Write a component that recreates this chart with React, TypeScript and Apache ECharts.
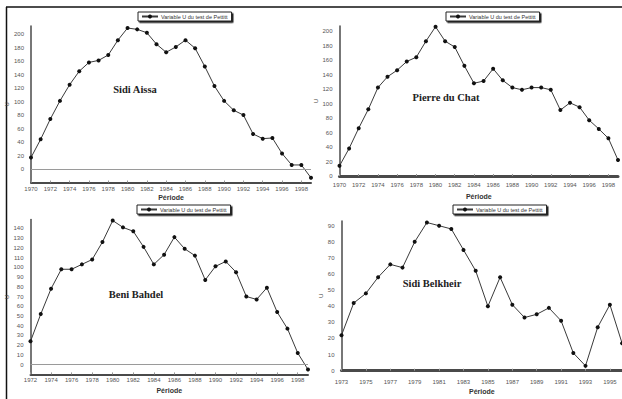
import { useEffect, useRef } from "react";
import * as echarts from "echarts";

// Pettitt test statistic U per station
const SERIES_NAME = "Variable U du test de Pettitt";

const yearsSidiAissa = [
  "1970", "1971", "1972", "1973", "1974", "1975", "1976", "1977", "1978", "1979",
  "1980", "1981", "1982", "1983", "1984", "1985", "1986", "1987", "1988", "1989",
  "1990", "1991", "1992", "1993", "1994", "1995", "1996", "1997", "1998", "1999",
];
const uSidiAissa = [
  17, 44, 74, 101, 125, 145, 158, 161, 169, 191,
  209, 207, 202, 185, 173, 181, 191, 179, 152, 123,
  101, 87, 80, 52, 45, 46, 23, 6, 6, -13,
];

const yearsPierreDuChat = [
  "1970", "1971", "1972", "1973", "1974", "1975", "1976", "1977", "1978", "1979",
  "1980", "1981", "1982", "1983", "1984", "1985", "1986", "1987", "1988", "1989",
  "1990", "1991", "1992", "1993", "1994", "1995", "1996", "1997", "1998", "1999",
];
const uPierreDuChat = [
  14, 38, 66, 92, 122, 137, 146, 158, 164, 186,
  206, 186, 178, 152, 128, 131, 148, 132, 122, 119,
  122, 122, 119, 91, 101, 95, 77, 65, 52, 22,
];

const yearsBeniBahdel = [
  "1972", "1973", "1974", "1975", "1976", "1977", "1978", "1979", "1980", "1981",
  "1982", "1983", "1984", "1985", "1986", "1987", "1988", "1989", "1990", "1991",
  "1992", "1993", "1994", "1995", "1996", "1997", "1998", "1999",
];
const uBeniBahdel = [
  24, 52, 78, 98, 98, 103, 108, 126, 148, 141,
  137, 121, 103, 113, 131, 119, 112, 87, 101, 106,
  95, 70, 67, 79, 54, 37, 12, -5,
];

const yearsSidiBelkheir = [
  "1973", "1974", "1975", "1976", "1977", "1978", "1979", "1980", "1981", "1982",
  "1983", "1984", "1985", "1986", "1987", "1988", "1989", "1990", "1991", "1992",
  "1993", "1994", "1995", "1996",
];
const uSidiBelkheir = [
  22, 42, 48, 58, 66, 64, 80, 92, 90, 88,
  75, 62, 40, 58, 41, 33, 35, 39, 31, 11,
  3, 27, 41, 17,
];

const stationNames = ["Sidi Aissa", "Pierre du Chat", "Beni Bahdel", "Sidi Belkheir"];

type Panel = {
  years: string[];
  values: number[];
  grid: { left: number; top: number; width: number; height: number };
  yMin: number;
  yMax: number;
  yStep: number;
  zeroLine: boolean;
  xAxisWidth: number;
  xNameGap: number;
  xLabelMargin: number;
  yNameGap: number;
  legend: { left: number; top: number };
  title: { x: number; y: number };
};

const panels: Panel[] = [
  {
    years: yearsSidiAissa,
    values: uSidiAissa,
    grid: { left: 31, top: 26, width: 280, height: 156.5 },
    yMin: -20, yMax: 212, yStep: 20, zeroLine: true,
    xAxisWidth: 2, xNameGap: 11, xLabelMargin: 3, yNameGap: 21,
    legend: { left: 138, top: 12 },
    title: { x: 135, y: 89 },
  },
  {
    years: yearsPierreDuChat,
    values: uPierreDuChat,
    grid: { left: 339.5, top: 26, width: 278.5, height: 150 },
    yMin: 0, yMax: 207, yStep: 20, zeroLine: false,
    xAxisWidth: 3, xNameGap: 17, xLabelMargin: 6, yNameGap: 15,
    legend: { left: 446, top: 12 },
    title: { x: 446, y: 97 },
  },
  {
    years: yearsBeniBahdel,
    values: uBeniBahdel,
    grid: { left: 30.5, top: 219.6, width: 277.5, height: 154.8 },
    yMin: -10, yMax: 149, yStep: 10, zeroLine: true,
    xAxisWidth: 2, xNameGap: 13, xLabelMargin: 3, yNameGap: 20,
    legend: { left: 137, top: 205 },
    title: { x: 136, y: 294 },
  },
  {
    years: yearsSidiBelkheir,
    values: uSidiBelkheir,
    grid: { left: 341.5, top: 220.9, width: 280.6, height: 149.8 },
    yMin: 0, yMax: 93, yStep: 10, zeroLine: false,
    xAxisWidth: 3, xNameGap: 17, xLabelMargin: 8, yNameGap: 15,
    legend: { left: 453, top: 205 },
    title: { x: 432, y: 283 },
  },
];

const SANS = "'Liberation Sans', Arial, sans-serif";
const SERIF = "'Liberation Serif', 'Times New Roman', serif";

function buildOption(): echarts.EChartsOption {
  const grid = panels.map((p) => ({ ...p.grid }));

  const xAxis = panels.map((p, i) => ({
    type: "category" as const,
    gridIndex: i,
    data: p.years,
    boundaryGap: false,
    name: "Période",
    nameLocation: "middle" as const,
    nameGap: p.xNameGap,
    nameTextStyle: { fontFamily: SANS, fontSize: 7, fontWeight: "bold" as const, color: "#333" },
    axisLine: { onZero: false, lineStyle: { color: "#4a4a4a", width: p.xAxisWidth } },
    axisTick: { show: true, inside: true, length: 2, interval: 1, lineStyle: { color: "#999" } },
    axisLabel: { interval: 1, fontFamily: SANS, fontSize: 6, color: "#555", margin: p.xLabelMargin },
    splitLine: { show: false },
  }));

  const yAxis = panels.map((p, i) => ({
    type: "value" as const,
    gridIndex: i,
    min: p.yMin,
    max: p.yMax,
    interval: p.yStep,
    name: "U",
    nameLocation: "middle" as const,
    nameRotate: 90,
    nameGap: p.yNameGap,
    nameTextStyle: { fontFamily: SANS, fontSize: 6, color: "#444" },
    axisLine: { show: true, lineStyle: { color: "#4a4a4a", width: 1.5 } },
    axisTick: { show: false },
    axisLabel: {
      fontFamily: SANS, fontSize: 6, color: "#555", margin: 7,
      showMinLabel: p.yMin === 0, showMaxLabel: false,
    },
    splitLine: { show: false },
  }));

  const series = panels.map((p, i) => ({
    type: "line" as const,
    name: SERIES_NAME,
    xAxisIndex: i,
    yAxisIndex: i,
    data: p.values,
    symbol: "circle",
    symbolSize: 4,
    itemStyle: { color: "#111" },
    lineStyle: { color: "#3a3a3a", width: 1 },
    markLine: p.zeroLine
      ? {
          silent: true,
          symbol: "none",
          label: { show: false },
          lineStyle: { color: "#9a9a9a", width: 1, type: "solid" as const },
          data: [{ yAxis: 0 }],
        }
      : undefined,
  }));

  const legend = panels.map((p) => ({
    data: [SERIES_NAME],
    left: p.legend.left,
    top: p.legend.top,
    orient: "horizontal" as const,
    itemWidth: 16,
    itemHeight: 5,
    padding: [1.5, 4, 1.5, 3],
    backgroundColor: "#fff",
    borderColor: "#222",
    borderWidth: 1,
    borderRadius: 0,
    shadowColor: "#222",
    shadowBlur: 0,
    shadowOffsetX: 1.5,
    shadowOffsetY: 1.5,
    textStyle: { fontFamily: SANS, fontSize: 5.5, color: "#333", padding: [0, 0, 0, -2] },
    selectedMode: false,
  }));

  const graphic: any[] = [
    // frame of the figure
    {
      type: "line",
      shape: { x1: 6.5, y1: 7, x2: 6.5, y2: 399 },
      style: { stroke: "#111", lineWidth: 1.5 },
    },
    {
      type: "line",
      shape: { x1: 6, y1: 7, x2: 640, y2: 7 },
      style: { stroke: "#111", lineWidth: 1.5 },
    },
    ...panels.map((p, i) => ({
      type: "text",
      x: p.title.x,
      y: p.title.y,
      style: {
        text: stationNames[i],
        fill: "#222",
        font: `bold 10.5px ${SERIF}`,
        textAlign: "center",
        textVerticalAlign: "middle",
      },
    })),
  ];

  return {
    animation: false,
    backgroundColor: "#fff",
    grid,
    xAxis,
    yAxis,
    series,
    legend,
    graphic,
  } as echarts.EChartsOption;
}

export default function App() {
  const ref = useRef<HTMLDivElement>(null);

  useEffect(() => {
    if (!ref.current) return;
    const chart = echarts.init(ref.current, undefined, { renderer: "svg" });
    chart.setOption(buildOption());
    return () => chart.dispose();
  }, []);

  return (
    <div
      style={{
        position: "fixed",
        left: 0,
        top: 0,
        width: 622,
        height: 399,
        overflow: "hidden",
        background: "#fff",
      }}
    >
      <div ref={ref} style={{ width: 640, height: 399 }} />
    </div>
  );
}
